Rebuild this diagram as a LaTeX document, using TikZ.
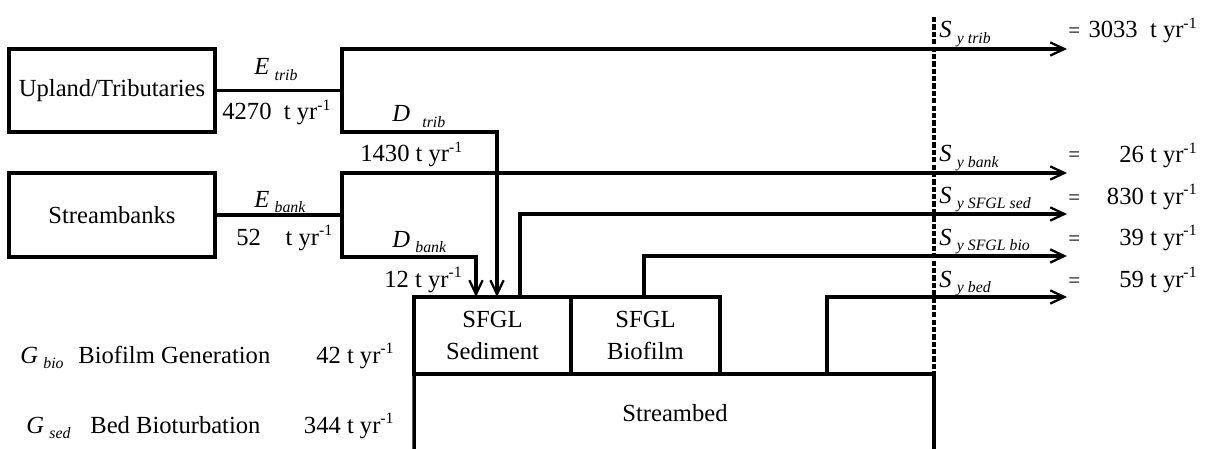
\documentclass[tikz,border=0pt]{standalone}
\usepackage{fontspec}
\setmainfont{Liberation Serif}
\usetikzlibrary{arrows.meta,positioning}
\tikzstyle{box} = [draw, line width=2pt, outer sep=0pt, inner sep=0pt, align=center, font=\fontsize{14}{18}\selectfont]
\tikzstyle{edge} = [draw, line width=2pt]
\tikzstyle{flow} = [edge, -{Straight Barb[length=8pt,width=7.5pt,line width=1.3pt]}]
\tikzstyle{txt} = [inner sep=0pt, font=\fontsize{14}{18}\selectfont]
\tikzstyle{eq} = [inner sep=0pt, font=\fontsize{12}{14}\selectfont]
\newcommand{\lsub}[3][3pt]{\textit{#2}\hspace{#1}\raisebox{-3pt}{\fontsize{9}{9}\selectfont\itshape #3}}
\newcommand{\tyr}{t yr\raisebox{5.5pt}{\fontsize{9}{9}\selectfont -1}}

\begin{document}
\begin{tikzpicture}[x=0.02cm, y=-0.02cm]
    \useasboundingbox (0,0) rectangle (1212,449);
    \node[box, minimum width=4.12cm, minimum height=1.66cm] (upland) at (112,90.5) {Upland/Tributaries};
    \node[box, minimum width=4.12cm, minimum height=1.68cm, below=0.82cm of upland] (banks) {Streambanks};
    \node[box, minimum width=3.14cm, minimum height=1.54cm] (sed) at (492.5,335.5) {SFGL\\Sediment};
    \node[box, minimum width=2.98cm, minimum height=1.54cm, right=0pt of sed] (bio) {SFGL\\Biofilm};
    \node[txt] (streambed) at (675,413) {Streambed};

    \coordinate (jt) at ([xshift=2.54cm]upland.east);
    \coordinate (jb) at (banks.east -| jt);
    \coordinate (dtrib) at (497,297);
    \coordinate (dbank) at (476,297);
    \coordinate (sedout) at (520,297);
    \coordinate (bioout) at (644,297);
    \coordinate (bedout) at (827,374);
    \coordinate (ytrib) at (1067,49);
    \coordinate (ybank) at (1067,173);
    \coordinate (ysed) at (1067,214);
    \coordinate (ybio) at (1067,256);
    \coordinate (ybed) at (1067,297);
    \coordinate (bedl) at (414,449);
    \coordinate (bedr) at (934,449);
    \coordinate (cut) at (934,17);

    \draw[line width=2pt, dash pattern=on 3pt off 1.2pt] (cut) -- (sed.south west -| cut);
    \draw[edge] (sed.south west) -- (bedl);
    \draw[edge] (sed.south west) -- (sed.south west -| bedr) -- (bedr);
    \draw[edge] (upland.east) -- (jt);
    \draw[edge] (banks.east) -- (jb);
    \draw[flow] (jt) |- (ytrib);
    \draw[flow] (jt) |- (dtrib |- upland.south) -- (dtrib);
    \draw[flow] (jb) |- (ybank);
    \draw[flow] (jb) |- (dbank |- banks.south) -- (dbank);
    \draw[flow] (sedout) |- (ysed);
    \draw[flow] (bioout) |- (ybio);
    \draw[flow] (bedout) |- (ybed);

    \node[txt, anchor=base west] (etrib) at (254,75) {\lsub{E}{trib}};
    \node[txt, anchor=base west] (etribv) at (222,120) {4270\ \ \tyr};
    \node[txt, anchor=base west] (dtribl) at (392,122) {\lsub[7pt]{D}{trib}};
    \node[txt, anchor=base west] (dtribv) at (360,162) {1430\ \tyr};
    \node[txt, anchor=base west] (ebank) at (254,207) {\lsub{E}{bank}};
    \node[txt, anchor=base west] (ebankv) at (236,245) {52\hspace{14pt}\tyr};
    \node[txt, anchor=base west] (dbankl) at (392,247) {\lsub{D}{bank}};
    \node[txt, anchor=base west] (dbankv) at (384,287) {12\ \tyr};

    \node[txt, anchor=base west] (gbio) at (20,363) {\lsub{G}{bio}};
    \node[txt, anchor=base west] (gbiot) at (78,363) {Biofilm Generation};
    \node[txt, anchor=base east] (gbiov) at (394,363) {42\ \tyr};
    \node[txt, anchor=base west] (gsed) at (26,433) {\lsub{G}{sed}};
    \node[txt, anchor=base west] (gsedt) at (90,433) {Bed Bioturbation};
    \node[txt, anchor=base east] (gsedv) at (394,433) {344\ \tyr};

    \node[txt, anchor=base west] (strib) at (939,38) {\lsub{S}{y trib}};
    \node[txt, anchor=base west] (sbank) at (939,162) {\lsub{S}{y bank}};
    \node[txt, anchor=base west] (ssed) at (939,203) {\lsub{S}{y SFGL sed}};
    \node[txt, anchor=base west] (sbio) at (939,245) {\lsub{S}{y SFGL bio}};
    \node[txt, anchor=base west] (sbed) at (939,287) {\lsub{S}{y bed}};
    \node[eq, anchor=base west] (qtrib) at (1068,38) {=};
    \node[eq, anchor=base west] (qbank) at (1068,162) {=};
    \node[eq, anchor=base west] (qsed) at (1068,204) {=};
    \node[eq, anchor=base west] (qbio) at (1068,245) {=};
    \node[eq, anchor=base west] (qbed) at (1068,287) {=};
    \node[txt, anchor=base east] (vtrib) at (1197,38) {3033\ \ \tyr};
    \node[txt, anchor=base east] (vbank) at (1197,163) {26\ \tyr};
    \node[txt, anchor=base east] (vsed) at (1197,204) {830\ \tyr};
    \node[txt, anchor=base east] (vbio) at (1197,245) {39\ \tyr};
    \node[txt, anchor=base east] (vbed) at (1197,287) {59\ \tyr};
\end{tikzpicture}
\end{document}
